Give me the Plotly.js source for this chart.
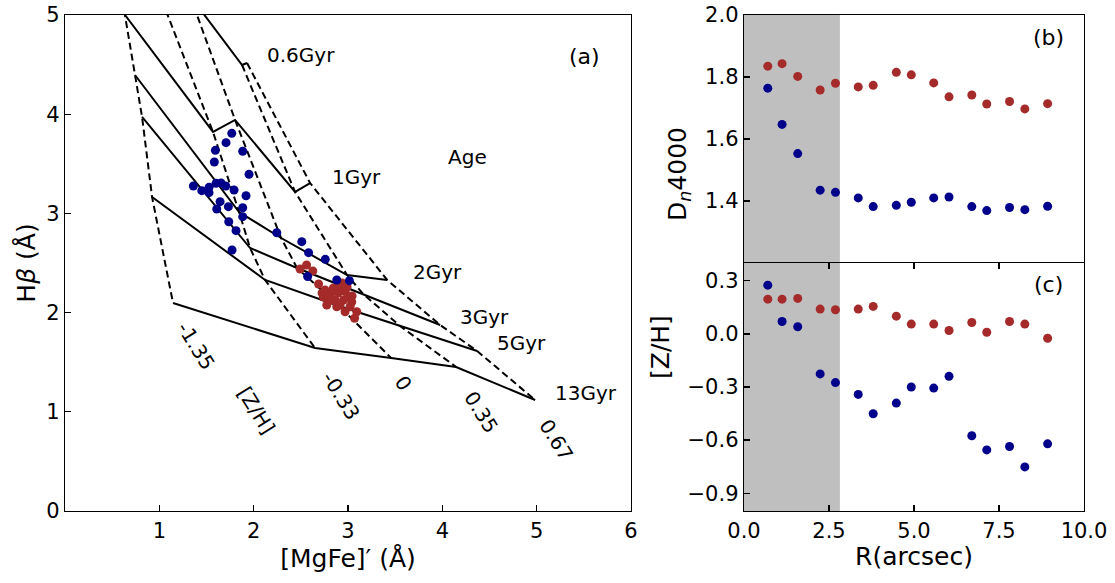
<!DOCTYPE html>
<html>
<head>
<meta charset="utf-8">
<script src="https://cdn.plot.ly/plotly-3.0.1.min.js"></script>
<style>html,body{margin:0;padding:0;background:#fff;}</style>
</head>
<body>
<div id="chart" style="width:1115px;height:583px;"></div>
<script>
// ---- Model grid (panel a): rows = ages, columns = [Z/H]
const ages = ['0.6Gyr', '1Gyr', '2Gyr', '3Gyr', '5Gyr', '13Gyr'];
const metals = ['-1.35', '-0.33', '0', '0.35', '0.67'];
const gridMgFe = [
  [0.530, 0.944, 1.326, 1.877, 1.930],
  [0.636, 1.569, 1.803, 2.439, 2.598],
  [0.742, 1.845, 2.291, 2.990, 3.415],
  [0.817, 1.962, 2.460, 3.160, 3.977],
  [0.923, 2.121, 2.906, 3.552, 4.369],
  [1.145, 2.651, 3.457, 4.146, 4.984]
];
const gridHb = [
  [5.595, 5.353, 5.192, 4.496, 4.516],
  [5.000, 3.821, 3.942, 3.216, 3.306],
  [4.395, 3.014, 2.752, 2.379, 2.329],
  [3.972, 2.651, 2.450, 2.188, 1.875],
  [3.165, 2.329, 2.067, 1.865, 1.613],
  [2.097, 1.643, 1.542, 1.452, 1.119]
];

// ---- Measurements (panel a)
const blueMgFe = [1.768, 1.707, 1.594, 1.884, 1.583, 1.951, 1.361, 1.450, 1.527, 1.527,
                  1.601, 1.654, 1.704, 1.792, 1.919, 1.644, 1.609, 1.732, 1.884, 1.884,
                  1.736, 1.813, 1.771, 2.245, 2.510, 2.582, 2.759, 2.572, 2.881, 3.015];
const blueHb   = [3.807, 3.713, 3.636, 3.626, 3.518, 3.394, 3.276, 3.229, 3.263, 3.209,
                  3.303, 3.306, 3.276, 3.236, 3.178, 3.118, 3.044, 3.068, 3.057, 2.967,
                  2.916, 2.826, 2.631, 2.805, 2.715, 2.604, 2.537, 2.364, 2.329, 2.322];
const redMgFe  = [2.492, 2.561, 2.627, 2.688, 2.725, 2.775, 2.810, 2.863, 2.916, 2.969,
                  2.953, 3.004, 3.040, 2.969, 3.070, 3.093, 2.881, 2.739, 3.022, 2.792,
                  2.845, 2.895, 2.937, 2.990, 2.916, 2.831, 2.757, 3.043];
const redHb    = [2.440, 2.480, 2.419, 2.288, 2.198, 2.077, 2.193, 2.127, 2.268, 2.213,
                  2.127, 2.162, 2.107, 2.009, 1.943, 2.009, 2.059, 2.157, 2.059, 2.160,
                  2.248, 2.198, 2.298, 2.258, 2.077, 2.127, 2.228, 2.167];

// ---- Radial profiles (panels b, c)
const radius   = [0.70, 1.12, 1.58, 2.24, 2.69, 3.36, 3.80, 4.48, 4.92, 5.58, 6.03, 6.70, 7.14, 7.81, 8.26, 8.93];
const dnRed    = [1.835, 1.843, 1.802, 1.758, 1.780, 1.768, 1.773, 1.815, 1.807, 1.781, 1.736, 1.742, 1.713, 1.721, 1.697, 1.714];
const dnBlue   = [1.764, 1.647, 1.553, 1.435, 1.428, 1.410, 1.382, 1.386, 1.396, 1.410, 1.413, 1.382, 1.369, 1.379, 1.372, 1.383];
const zhRed    = [0.196, 0.196, 0.200, 0.140, 0.136, 0.140, 0.155, 0.100, 0.055, 0.055, 0.019, 0.064, 0.009, 0.070, 0.055, -0.025];
const zhBlue   = [0.275, 0.070, 0.040, -0.226, -0.275, -0.342, -0.451, -0.391, -0.300, -0.306, -0.240, -0.575, -0.655, -0.636, -0.751, -0.621];
const shadeR   = [0, 2.82];

// ---- tick labels
const aXTicks = [1, 2, 3, 4, 5, 6];
const aYTicks = [0, 1, 2, 3, 4, 5];
const bYTicks = [1.4, 1.6, 1.8, 2.0];
const bYText  = ['1.4', '1.6', '1.8', '2.0'];
const cYTicks = [0.3, 0.0, -0.3, -0.6, -0.9];
const cYText  = ['0.3', '0.0', '\u22120.3', '\u22120.6', '\u22120.9'];
const cXTicks = [0, 2.5, 5, 7.5, 10];
const cXText  = ['0.0', '2.5', '5.0', '7.5', '10.0'];

const RED = '#A52A2A', BLUE = '#00008B';
const FONT = 'DejaVu Sans, Liberation Sans, sans-serif';

const traces = [];
// age lines (solid)
ages.forEach((a, i) => {
  traces.push({x: gridMgFe[i], y: gridHb[i], mode: 'lines', type: 'scatter', name: a,
    xaxis: 'x', yaxis: 'y', line: {color: 'black', width: 2}, hoverinfo: 'skip'});
});
// metallicity lines (dashed)
metals.forEach((m, j) => {
  traces.push({x: gridMgFe.map(r => r[j]), y: gridHb.map(r => r[j]), mode: 'lines', type: 'scatter',
    name: '[Z/H]=' + m, xaxis: 'x', yaxis: 'y', line: {color: 'black', width: 2, dash: '7px,4px'}, hoverinfo: 'skip'});
});
traces.push({x: redMgFe, y: redHb, mode: 'markers', type: 'scatter', xaxis: 'x', yaxis: 'y',
  marker: {color: RED, size: 9}, name: 'red'});
traces.push({x: blueMgFe, y: blueHb, mode: 'markers', type: 'scatter', xaxis: 'x', yaxis: 'y',
  marker: {color: BLUE, size: 9}, name: 'blue'});
traces.push({x: radius, y: dnRed, mode: 'markers', type: 'scatter', xaxis: 'x2', yaxis: 'y2',
  marker: {color: RED, size: 9}, name: 'Dn red'});
traces.push({x: radius, y: dnBlue, mode: 'markers', type: 'scatter', xaxis: 'x2', yaxis: 'y2',
  marker: {color: BLUE, size: 9}, name: 'Dn blue'});
traces.push({x: radius, y: zhRed, mode: 'markers', type: 'scatter', xaxis: 'x3', yaxis: 'y3',
  marker: {color: RED, size: 9}, name: 'ZH red'});
traces.push({x: radius, y: zhBlue, mode: 'markers', type: 'scatter', xaxis: 'x3', yaxis: 'y3',
  marker: {color: BLUE, size: 9}, name: 'ZH blue'});

const W = 1115, H = 583;
const px = v => v / W, py = v => 1 - v / H;

const axisBase = {
  showgrid: false, zeroline: false, showline: true, linecolor: 'black', linewidth: 1.3,
  ticks: 'inside', ticklen: 6, tickwidth: 1.3, tickcolor: 'black',
  tickfont: {family: FONT, size: 21, color: 'black'}
};

const lbl = (x, y, text, extra) => Object.assign({x: x, y: y, xref: 'x', yref: 'y', text: text,
  showarrow: false, font: {family: FONT, size: 20, color: 'black'}}, extra || {});

const layout = {
  width: W, height: H,
  margin: {l: 0, r: 0, t: 0, b: 0},
  paper_bgcolor: 'white', plot_bgcolor: 'white',
  showlegend: false,
  xaxis: Object.assign({}, axisBase, {domain: [px(65), px(631)], range: [0, 6], anchor: 'y',
    tickmode: 'array', tickvals: aXTicks, mirror: true,
    title: {text: '[MgFe]\u2032 (\u00C5)', font: {family: FONT, size: 25, color: 'black'}, standoff: 8}}),
  yaxis: Object.assign({}, axisBase, {domain: [py(511), py(15)], range: [0, 5], anchor: 'x',
    tickmode: 'array', tickvals: aYTicks, mirror: true,
    title: {text: 'H<i>\u03B2</i> (\u00C5)', font: {family: FONT, size: 25, color: 'black'}, standoff: 3}}),
  xaxis2: Object.assign({}, axisBase, {domain: [px(744), px(1084)], range: [0, 10], anchor: 'y2',
    side: 'top', ticks: '', showticklabels: false, mirror: false}),
  yaxis2: Object.assign({}, axisBase, {domain: [py(263), py(15)], range: [1.2, 2.0], anchor: 'x2',
    tickmode: 'array', tickvals: bYTicks, ticktext: bYText, mirror: true}),
  xaxis3: Object.assign({}, axisBase, {domain: [px(744), px(1084)], range: [0, 10], anchor: 'y3',
    tickmode: 'array', tickvals: cXTicks, ticktext: cXText, mirror: 'ticks',
    title: {text: 'R(arcsec)', font: {family: FONT, size: 25, color: 'black'}, standoff: 6}}),
  yaxis3: Object.assign({}, axisBase, {domain: [py(511), py(263)], range: [-1.0, 0.4], anchor: 'x3',
    tickmode: 'array', tickvals: cYTicks, ticktext: cYText, mirror: true}),
  shapes: [
    {type: 'rect', xref: 'x2', yref: 'y2 domain', x0: shadeR[0], x1: shadeR[1], y0: 0, y1: 1,
      fillcolor: '#BFBFBF', line: {width: 0}, layer: 'below'},
    {type: 'rect', xref: 'x3', yref: 'y3 domain', x0: shadeR[0], x1: shadeR[1], y0: 0, y1: 1,
      fillcolor: '#BFBFBF', line: {width: 0}, layer: 'below'}
  ],
  annotations: [
    lbl(2.503, 4.597, '0.6Gyr'),
    lbl(5.504, 4.577, '(a)', {font: {family: FONT, size: 22, color: 'black'}}),
    lbl(4.263, 3.569, 'Age'),
    lbl(3.086, 3.367, '1Gyr'),
    lbl(3.945, 2.409, '2Gyr'),
    lbl(4.443, 1.956, '3Gyr'),
    lbl(4.836, 1.694, '5Gyr'),
    lbl(5.525, 1.190, '13Gyr'),
    lbl(1.389, 1.663, '-1.35', {textangle: 58}),
    lbl(2.025, 1.018, '[Z/H]', {textangle: 58}),
    lbl(2.927, 1.159, '-0.33', {textangle: 58}),
    lbl(3.584, 1.290, '0', {textangle: 58}),
    lbl(4.411, 0.998, '0.35', {textangle: 58}),
    lbl(5.207, 0.716, '0.67', {textangle: 58}),
    {x: 8.97, y: 1.926, xref: 'x2', yref: 'y2', text: '(b)', showarrow: false,
      font: {family: FONT, size: 22, color: 'black'}},
    {x: 8.97, y: 0.281, xref: 'x3', yref: 'y3', text: '(c)', showarrow: false,
      font: {family: FONT, size: 22, color: 'black'}},
    {x: px(679), y: py(125), xref: 'paper', yref: 'paper', text: 'D<sub><i>n</i></sub>4000', textangle: -90,
      showarrow: false, font: {family: FONT, size: 25, color: 'black'}},
    {x: px(660), y: py(347), xref: 'paper', yref: 'paper', text: '[Z/H]', textangle: -90,
      showarrow: false, font: {family: FONT, size: 25, color: 'black'}}
  ]
};

Plotly.newPlot('chart', traces, layout, {displayModeBar: false, staticPlot: true});
</script>
</body>
</html>
